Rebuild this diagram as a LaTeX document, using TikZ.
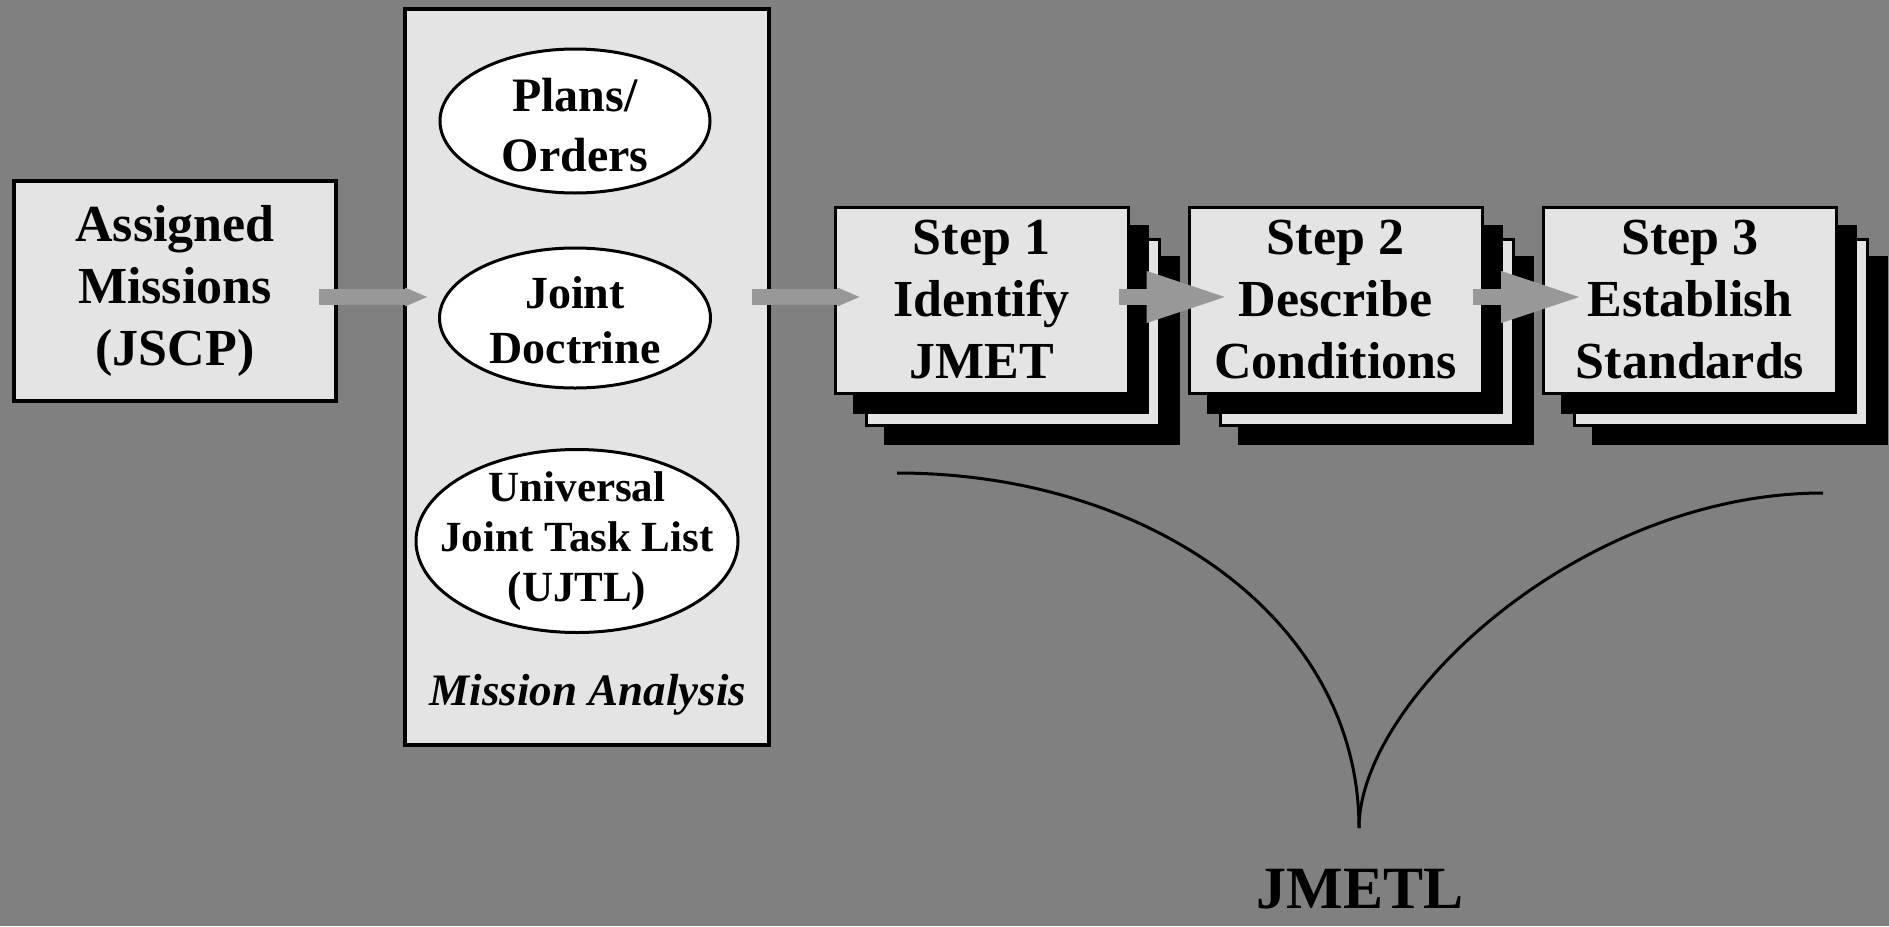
\documentclass[tikz,border=0pt]{standalone}
\usepackage{fontspec}
\setmainfont{Liberation Serif}
\usetikzlibrary{shapes.geometric,arrows.meta,calc}
\definecolor{backgray}{RGB}{128,128,128}
\definecolor{sheetgray}{RGB}{228,228,228}
\definecolor{flowgray}{RGB}{152,152,152}

\begin{document}
\begin{tikzpicture}[
x=0.5pt,
y=-0.5pt,
missionbox/.style={
  draw=black,
  line width=1.8pt,
  fill=sheetgray,
  rectangle,
  inner sep=0pt
  },
oval/.style={
  draw=black,
  line width=1.5pt,
  fill=white,
  ellipse,
  inner sep=0pt
  },
ovaltext/.style={
  align=center,
  inner sep=0pt
  },
sheet/.style={
  missionbox,
  line width=1.5pt,
  minimum width=146.5pt,
  minimum height=93pt,
  align=center,
  font=\bfseries\fontsize{26}{31}\selectfont
  },
sheetshadow/.style={
  sheet,
  fill=black
  },
flowarrow/.style={
  color=flowgray,
  line width=8pt,
  -{Triangle[length=11.5pt,width=8.5pt]}
  },
stepflow/.style={
  flowarrow,
  -{Triangle[length=41pt,width=23.5pt]}
  },
>=latex
]
\useasboundingbox (0,0) rectangle (1889,926);
\fill[backgray] (0,0) rectangle (1889,926);

\node[missionbox, minimum width=161pt, minimum height=110pt, align=center,
  font=\bfseries\fontsize{26}{31}\selectfont] (assigned) at (175,291)
  {Assigned\\Missions\\(JSCP)};

\node[missionbox, minimum width=182pt, minimum height=368pt] (analysis) at (587,377) {};
\node[oval, minimum width=135pt, minimum height=72pt,
  label={[ovaltext, yshift=-2pt, font=\bfseries\fontsize{24}{30}\selectfont]center:{Plans/\\Orders}}]
  (plans) at (575,121) {};
\node[oval, minimum width=135.5pt, minimum height=70pt,
  label={[ovaltext, yshift=-1pt, font=\bfseries\fontsize{23}{27.5}\selectfont]center:{Joint\\Doctrine}}]
  (doctrine) at (575,318) {};
\node[oval, minimum width=161pt, minimum height=91.5pt,
  label={[ovaltext, font=\bfseries\fontsize{21.5}{25}\selectfont]center:{Universal\\Joint Task List\\(UJTL)}}]
  (ujtl) at (577,541) {};
\node[anchor=base, font=\bfseries\itshape\fontsize{22.5}{27}\selectfont] (analysislabel)
  at (588,705) {Mission Analysis};

\foreach \n/\x/\txt in {1/981.5/{Step 1\\Identify\\JMET},
                        2/1335.5/{Step 2\\Describe\\Conditions},
                        3/1690/{Step 3\\Establish\\Standards}}
{
  \node[sheetshadow] at (\x+50,350) {};
  \node[sheet] at (\x+31,332) {};
  \node[sheetshadow] at (\x+19,319) {};
  \node[sheet] (step\n) at (\x,300) {\txt};
}

\coordinate (lane) at (0,297);
\draw[flowarrow] ($(assigned.east |- lane)+(-9.5pt,0)$) -- ($(analysis.west |- lane)+(12.5pt,0)$);
\draw[flowarrow] ($(analysis.east |- lane)+(-9.5pt,0)$) -- ($(step1.west |- lane)+(13.5pt,0)$);
\foreach \a/\b in {1/2,2/3}
  \draw[stepflow] ($(step\a.east |- lane)+(-5.5pt,0)$) -- ($(step\b.west |- lane)+(20.5pt,0)$);

\coordinate (lstart) at (897,473);
\coordinate (rstart) at (1823,493);
\coordinate (merge) at (1359,828);
\draw[line width=1.5pt] (lstart) .. controls +(253,0) and +(0,-208) .. (merge);
\draw[line width=1.5pt] (rstart) .. controls +(-243,0) and +(0,-128) .. (merge);
\node[anchor=base, inner sep=0pt, font=\bfseries\fontsize{30}{36}\selectfont] (jmetl) at (1360,908) {JMETL};
\end{tikzpicture}
\end{document}
